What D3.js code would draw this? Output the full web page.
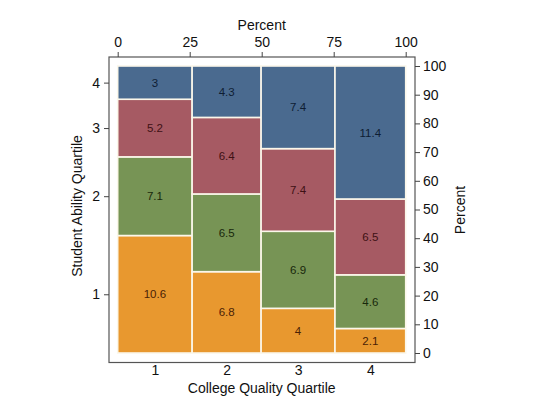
<!DOCTYPE html>
<html>
<head>
<meta charset="utf-8">
<script src="https://cdn.jsdelivr.net/npm/d3@7"></script>
<style>
  body { margin: 0; background: #fff; }
  svg { font-family: "Liberation Sans", Arial, sans-serif; }
  .axis text { font-size: 14px; fill: #111; }
  .axis line { stroke: #444; }
  .cell-label { font-size: 11.5px; text-anchor: middle; }
</style>
</head>
<body>
<svg id="chart" width="540" height="414"></svg>
<script>
// college quality quartiles (columns) and student ability quartiles (stacked)
const collegeQuartiles = ["1", "2", "3", "4"];
const abilityQuartiles = ["1", "2", "3", "4"];
// cell percentages, one array per ability quartile, across college quartiles
const ability1 = [10.6, 6.8, 4, 2.1];
const ability2 = [7.1, 6.5, 6.9, 4.6];
const ability3 = [5.2, 6.4, 7.4, 6.5];
const ability4 = [3, 4.3, 7.4, 11.4];
const topTicks = [0, 25, 50, 75, 100];
const rightTicks = [0, 10, 20, 30, 40, 50, 60, 70, 80, 90, 100];

const fills = ["#e8982f", "#779455", "#a65a63", "#4a6a8f"];
const textColors = ["#4a2206", "#17280b", "#3e1114", "#0e1d33"];

const frame = { left: 109, top: 57, right: 415, bottom: 362.5 };
const plot = { left: 117.7, top: 66, right: 405.7, bottom: 353 };

const svg = d3.select("#chart");

const x = d3.scaleLinear().domain([0, 100]).range([plot.left, plot.right]);
const y = d3.scaleLinear().domain([0, 100]).range([plot.bottom, plot.top]);

// build tiles: width from column totals, height from share within column
const series = [ability1, ability2, ability3, ability4];
const colTotals = collegeQuartiles.map((c, j) => d3.sum(series, s => s[j]));
const grand = d3.sum(colTotals);

const tiles = [];
let xStart = 0;
collegeQuartiles.forEach((c, j) => {
    const w = colTotals[j] / grand * 100;
    let yStart = 0;
    series.forEach((s, i) => {
        const h = s[j] / colTotals[j] * 100;
        tiles.push({ col: j, row: i, value: s[j], x0: xStart, x1: xStart + w, y0: yStart, y1: yStart + h });
        yStart += h;
    });
    xStart += w;
});

//frame
svg.append("rect")
    .attr("x", frame.left)
    .attr("y", frame.top)
    .attr("width", frame.right - frame.left)
    .attr("height", frame.bottom - frame.top)
    .attr("fill", "#fff")
    .attr("stroke", "#555")
    .attr("stroke-width", 1.2);

svg.selectAll(".tile")
    .data(tiles)
    .enter().append("rect")
    .attr("class", "tile")
    .attr("x", d => x(d.x0))
    .attr("y", d => y(d.y1))
    .attr("width", d => x(d.x1) - x(d.x0))
    .attr("height", d => y(d.y0) - y(d.y1))
    .attr("fill", d => fills[d.row])
    .attr("stroke", "#fbf7ea")
    .attr("stroke-width", 1.6);

svg.selectAll(".cell-label")
    .data(tiles)
    .enter().append("text")
    .attr("class", "cell-label")
    .attr("x", d => x((d.x0 + d.x1) / 2))
    .attr("y", d => y((d.y0 + d.y1) / 2) + 4)
    .attr("fill", d => textColors[d.row])
    .text(d => d.value);

// top axis
const topAxis = svg.append("g")
    .attr("class", "axis")
    .attr("transform", `translate(0,${frame.top})`)
    .call(d3.axisTop(x).tickValues(topTicks).tickSize(5).tickPadding(5));
topAxis.select(".domain").remove();

// right axis
const rightAxis = svg.append("g")
    .attr("class", "axis")
    .attr("transform", `translate(${frame.right},0)`)
    .call(d3.axisRight(y).tickValues(rightTicks).tickSize(5).tickPadding(3));
rightAxis.select(".domain").remove();

// left axis: ability quartiles at mid of first column segments
const firstCol = tiles.filter(d => d.col === 0);
const leftScale = d3.scaleOrdinal()
    .domain(abilityQuartiles)
    .range(firstCol.map(d => y((d.y0 + d.y1) / 2)));
const leftAxis = svg.append("g")
    .attr("class", "axis")
    .attr("transform", `translate(${frame.left},0)`)
    .call(d3.axisLeft(leftScale).tickSize(5).tickPadding(4));
leftAxis.select(".domain").remove();

// bottom axis: college quartiles at column mids
const bottomScale = d3.scaleOrdinal()
    .domain(collegeQuartiles)
    .range(collegeQuartiles.map((c, j) => {
        const t = tiles.find(d => d.col === j);
        return x((t.x0 + t.x1) / 2);
    }));
const bottomAxis = svg.append("g")
    .attr("class", "axis")
    .attr("transform", `translate(0,${frame.bottom})`)
    .call(d3.axisBottom(bottomScale).tickSize(0).tickPadding(3));
bottomAxis.select(".domain").remove();

// titles
svg.append("text")
    .attr("x", x(50)).attr("y", 30)
    .attr("text-anchor", "middle").attr("font-size", 14).attr("fill", "#111")
    .text("Percent");

svg.append("text")
    .attr("x", x(50)).attr("y", 393)
    .attr("text-anchor", "middle").attr("font-size", 14).attr("fill", "#111")
    .text("College Quality Quartile");

svg.append("text")
    .attr("transform", "translate(82,206) rotate(-90)")
    .attr("text-anchor", "middle").attr("font-size", 14).attr("fill", "#111")
    .text("Student Ability Quartile");

svg.append("text")
    .attr("transform", "translate(465,210) rotate(-90)")
    .attr("text-anchor", "middle").attr("font-size", 14).attr("fill", "#111")
    .text("Percent");
</script>
</body>
</html>
